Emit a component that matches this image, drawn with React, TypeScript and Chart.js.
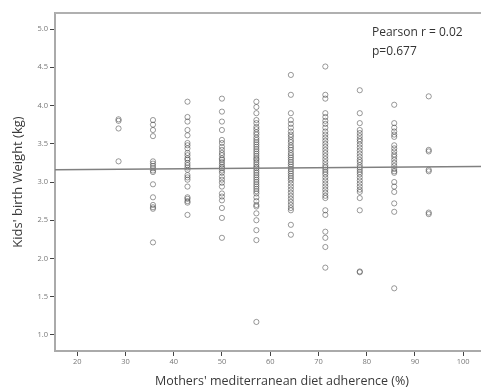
import React, { useEffect, useRef } from "react";
import { Chart, registerables } from "chart.js";

Chart.register(...registerables);

// Adherence levels (x categories, %)
const adherenceLevels = [28.57, 35.71, 42.86, 50, 57.14, 64.29, 71.43, 78.57, 85.71, 92.86];

// Birth weights (kg) per adherence level
const w28 = [3.82, 3.80, 3.70, 3.27];
const w35 = [3.81, 3.75, 3.68, 3.60, 3.27, 3.24, 3.21, 3.18, 3.15, 3.13, 2.97, 2.80, 2.70, 2.67, 2.65, 2.21];
const w42 = [4.05, 3.85, 3.79, 3.68, 3.61, 3.51, 3.48, 3.44, 3.38, 3.35, 3.31, 3.29, 3.25, 3.22, 3.19, 3.16, 3.09, 3.06, 3.03, 2.94, 2.80, 2.78, 2.75, 2.73, 2.57];
const w50 = [4.09, 3.92, 3.79, 3.68, 3.55, 3.51, 3.46, 3.42, 3.38, 3.35, 3.31, 3.29, 3.26, 3.23, 3.20, 3.18, 3.15, 3.12, 3.07, 3.03, 2.99, 2.94, 2.85, 2.81, 2.76, 2.66, 2.53, 2.27];
const w57 = [4.05, 3.98, 3.90, 3.81, 3.77, 3.72, 3.69, 3.65, 3.62, 3.58, 3.55, 3.52, 3.49, 3.46, 3.43, 3.40, 3.37, 3.34, 3.31, 3.29, 3.26, 3.23, 3.20, 3.18, 3.15, 3.12, 3.09, 3.06, 3.03, 3.00, 2.97, 2.94, 2.91, 2.88, 2.85, 2.80, 2.75, 2.70, 2.68, 2.59, 2.50, 2.37, 2.24, 1.17];
const w64 = [4.40, 4.14, 3.90, 3.81, 3.76, 3.71, 3.66, 3.62, 3.59, 3.55, 3.52, 3.48, 3.45, 3.42, 3.38, 3.35, 3.32, 3.29, 3.26, 3.23, 3.20, 3.17, 3.14, 3.11, 3.08, 3.05, 3.02, 2.98, 2.94, 2.90, 2.86, 2.82, 2.78, 2.74, 2.70, 2.66, 2.63, 2.44, 2.31];
const w71 = [4.51, 4.14, 4.09, 3.90, 3.85, 3.80, 3.76, 3.71, 3.66, 3.62, 3.58, 3.54, 3.50, 3.46, 3.42, 3.38, 3.34, 3.30, 3.26, 3.22, 3.19, 3.16, 3.13, 3.10, 3.06, 3.02, 2.98, 2.94, 2.90, 2.86, 2.82, 2.79, 2.63, 2.57, 2.35, 2.27, 2.15, 1.88];
const w78 = [4.20, 3.90, 3.77, 3.68, 3.64, 3.60, 3.56, 3.53, 3.49, 3.45, 3.41, 3.37, 3.33, 3.29, 3.26, 3.22, 3.19, 3.16, 3.13, 3.10, 3.06, 3.02, 2.98, 2.94, 2.90, 2.87, 2.79, 2.63, 1.83, 1.82];
const w85 = [4.01, 3.77, 3.71, 3.66, 3.62, 3.59, 3.48, 3.44, 3.40, 3.36, 3.33, 3.29, 3.25, 3.21, 3.17, 3.14, 3.12, 3.00, 2.94, 2.87, 2.72, 2.61, 1.61];
const w92 = [4.12, 3.42, 3.40, 3.16, 3.14, 2.60, 2.58];

const weightsByLevel = [w28, w35, w42, w50, w57, w64, w71, w78, w85, w92];

// Linear fit line endpoints
const fitX = [15.4, 109.5];
const fitY = [3.16, 3.205];

// Tick labels
const xTicks = [20, 30, 40, 50, 60, 70, 80, 90, 100];
const yTicks = [1.0, 1.5, 2.0, 2.5, 3.0, 3.5, 4.0, 4.5, 5.0];

const annotationLines = ["Pearson r = 0.02", "p=0.677"];

const FONT = "'Open Sans', 'Liberation Sans', sans-serif";

export default function App() {
  const ref = useRef<HTMLCanvasElement | null>(null);

  useEffect(() => {
    if (!ref.current) return;
    const points: { x: number; y: number }[] = [];
    adherenceLevels.forEach((lvl, i) => {
      weightsByLevel[i].forEach((w) => points.push({ x: lvl, y: w }));
    });
    const fitPoints = fitX.map((x, i) => ({ x, y: fitY[i] }));

    const framePlugin = {
      id: "frameAndText",
      afterDraw(chart: any) {
        const { ctx, chartArea, scales } = chart;
        ctx.save();
        ctx.strokeStyle = "#b0b0b0";
        ctx.lineWidth = 2;
        ctx.beginPath();
        ctx.moveTo(chartArea.left, chartArea.top);
        ctx.lineTo(chartArea.right, chartArea.top);
        ctx.stroke();
        ctx.fillStyle = "#333";
        ctx.font = `12px ${FONT}`;
        ctx.textBaseline = "middle";
        ctx.textAlign = "left";
        const tx = scales.x.getPixelForValue(81.1);
        ctx.fillText(annotationLines[0], tx, scales.y.getPixelForValue(4.95));
        ctx.fillText(annotationLines[1], tx, scales.y.getPixelForValue(4.71));
        ctx.restore();
      },
    };

    const chart = new Chart(ref.current, {
      type: "scatter",
      data: {
        datasets: [
          {
            type: "line",
            data: fitPoints,
            borderColor: "#808080",
            borderWidth: 1.5,
            pointRadius: 0,
            fill: false,
          } as any,
          {
            data: points,
            pointRadius: 2.6,
            pointBorderWidth: 0.9,
            borderColor: "rgba(50,50,50,0.55)",
            backgroundColor: "rgba(0,0,0,0)",
            pointHoverRadius: 2.6,
          },
        ],
      },
      options: {
        animation: false,
        responsive: false,
        devicePixelRatio: 1,
        layout: { padding: { left: 0, top: 13, right: 21, bottom: 0 } },
        plugins: { legend: { display: false }, tooltip: { enabled: false } },
        scales: {
          x: {
            type: "linear",
            min: 15.4,
            max: 109.5,
            afterBuildTicks: (scale: any) => {
              scale.ticks = xTicks.map((v) => ({ value: v }));
            },
            afterFit: (scale: any) => {
              scale.height = 41;
            },
            grid: { display: true, drawOnChartArea: false, drawTicks: true, tickLength: 5, color: "#444", lineWidth: 1 },
            border: { display: true, color: "#aaa", width: 2 },
            ticks: { font: { size: 7.5, family: FONT }, color: "#777", padding: 1, callback: (v: any) => String(v) },
            title: {
              display: true,
              text: "Mothers' mediterranean diet adherence (%)",
              font: { size: 12.5, family: FONT },
              color: "#3a3a3a",
              padding: { top: 0, bottom: 3 },
            },
          },
          y: {
            type: "linear",
            min: 0.79,
            max: 5.21,
            afterBuildTicks: (scale: any) => {
              scale.ticks = yTicks.map((v) => ({ value: v }));
            },
            afterFit: (scale: any) => {
              scale.width = 55;
            },
            grid: { display: true, drawOnChartArea: false, drawTicks: true, tickLength: 5, color: "#444", lineWidth: 1 },
            border: { display: true, color: "#aaa", width: 2 },
            ticks: { font: { size: 7.5, family: FONT }, color: "#777", padding: 2, callback: (v: any) => Number(v).toFixed(1) },
            title: {
              display: true,
              text: "Kids' birth Weight (kg)",
              font: { size: 13, family: FONT },
              color: "#3a3a3a",
              padding: { top: 10, bottom: 0 },
            },
          },
        },
      },
      plugins: [framePlugin],
    });
    return () => chart.destroy();
  }, []);

  return (
    <div style={{ position: "absolute", left: 0, top: 0, width: 481, height: 392, overflow: "hidden", background: "#fff" }}>
      <canvas ref={ref} width={530} height={392} style={{ width: 530, height: 392, display: "block" }} />
    </div>
  );
}
